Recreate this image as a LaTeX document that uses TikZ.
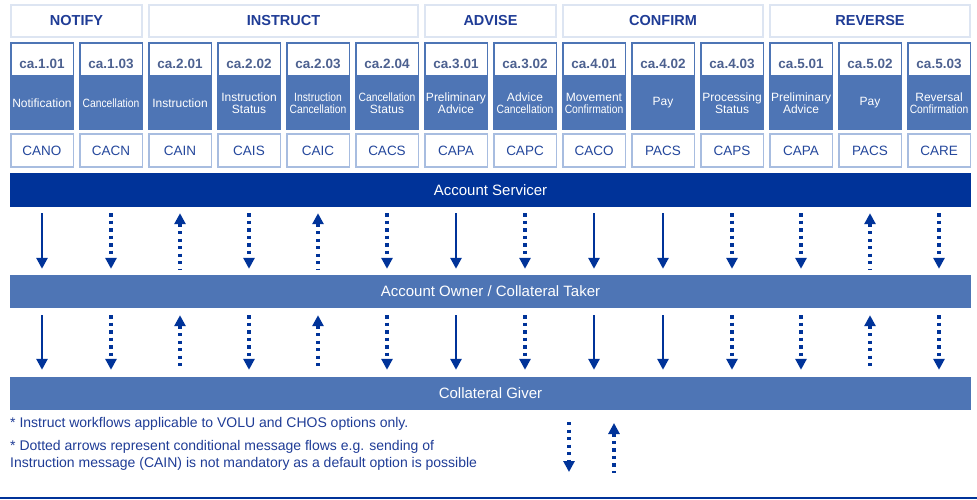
\documentclass[tikz,border=0pt]{standalone}
\usepackage{fontspec}
\setmainfont{Liberation Sans}
\usepackage{graphicx}
\usetikzlibrary{arrows.meta, positioning}
\definecolor{darkblue}{HTML}{003399}
\definecolor{midblue}{HTML}{4E75B5}
\definecolor{headblue}{HTML}{1F3C96}
\definecolor{codegrey}{HTML}{4D6190}
\definecolor{msgblue}{HTML}{24479C}
\definecolor{paleframe}{HTML}{DDE5F2}
\definecolor{lightframe}{HTML}{A8BDE0}
\newcommand{\squeezed}[1]{\scalebox{0.86}[1]{#1}}

\begin{document}
\begin{tikzpicture}[x=1pt, y=-1pt]
\tikzstyle{groupbox} = [rectangle, minimum height=32pt, inner sep=0pt, draw=paleframe, line width=1.5pt, fill=white, text=headblue, font=\fontsize{14.5}{14.5}\selectfont\bfseries]
\tikzstyle{cabox} = [rectangle, minimum width=62.5pt, minimum height=33pt, inner sep=0pt, text height=17pt, text depth=0pt, draw=midblue, line width=1.5pt, fill=white, text=codegrey, font=\fontsize{13.5}{13.5}\selectfont\bfseries]
\tikzstyle{descbox} = [rectangle, minimum width=64pt, minimum height=54pt, inner sep=0pt, fill=midblue, text=white, align=center, font=\fontsize{12}{12}\selectfont]
\tikzstyle{msgbox} = [rectangle, minimum width=62.5pt, minimum height=33pt, inner sep=0pt, draw=lightframe, line width=1.5pt, fill=white, text=msgblue, font=\fontsize{13.5}{13.5}\selectfont]
\tikzstyle{partybar} = [rectangle, minimum width=961pt, minimum height=34pt, inner sep=0pt, text=white, font=\fontsize{15}{15}\selectfont]
\tikzstyle{note} = [inner sep=0pt, text=headblue, align=left, font=\fontsize{14}{17}\selectfont]
\tikzstyle{msgdown} = [darkblue, line width=2.7pt, -{Triangle[width=11pt, length=11pt]}]
\tikzstyle{conddown} = [darkblue, line width=3.3pt, dash pattern=on 3.3pt off 4.2pt, -{Triangle[width=11pt, length=11pt]}]
\tikzstyle{condup} = [darkblue, line width=3.3pt, dash pattern=on 3.3pt off 4.2pt, {Triangle[width=11pt, length=11pt]}-]

\useasboundingbox (0,0) rectangle (977,499);

% workflow groups
\node (notify) [groupbox, minimum width=131pt] at (76.5,21) {NOTIFY};
\node (instruct) [groupbox, minimum width=269pt] at (283.5,21) {INSTRUCT};
\node (advise) [groupbox, minimum width=131pt] at (490.5,21) {ADVISE};
\node (confirm) [groupbox, minimum width=200pt] at (663,21) {CONFIRM};
\node (reverse) [groupbox, minimum width=200pt] at (870,21) {REVERSE};

% one column per message
\foreach \i/\ca/\desc/\msg in {
  1/ca.1.01/Notification/CANO,
  2/ca.1.03/{\squeezed{Cancellation}}/CACN,
  3/ca.2.01/Instruction/CAIN,
  4/ca.2.02/{Instruction\\Status}/CAIS,
  5/ca.2.03/{\squeezed{Instruction}\\\squeezed{Cancellation}}/CAIC,
  6/ca.2.04/{\squeezed{Cancellation}\\Status}/CACS,
  7/ca.3.01/{Preliminary\\Advice}/CAPA,
  8/ca.3.02/{Advice\\\squeezed{Cancellation}}/CAPC,
  9/ca.4.01/{Movement\\\squeezed{Confirmation}}/CACO,
  10/ca.4.02/Pay/PACS,
  11/ca.4.03/{Processing\\Status}/CAPS,
  12/ca.5.01/{Preliminary\\Advice}/CAPA,
  13/ca.5.02/Pay/PACS,
  14/ca.5.03/{Reversal\\\squeezed{Confirmation}}/CARE}
{
  \node (desc\i) [descbox] at ({42+69*(\i-1)},103) {\desc};
  \node (ca\i) [cabox] at ({42+69*(\i-1)},59.5) {\ca};
  \node (msg\i) [msgbox] at ({42+69*(\i-1)},150.5) {\msg};
}

% parties
\node (servicer) [partybar, fill=darkblue] at (490.5,190) {Account Servicer};
\node (owner) [partybar, fill=midblue, minimum height=33pt] at (490.5,291.5) {Account Owner / Collateral Taker};
\node (giver) [partybar, fill=midblue, minimum height=33pt] at (490.5,393.5) {Collateral Giver};

% message flows
\foreach \i/\flow in {1/msgdown, 2/conddown, 3/condup, 4/conddown, 5/condup, 6/conddown, 7/msgdown,
  8/conddown, 9/msgdown, 10/msgdown, 11/conddown, 12/conddown, 13/condup, 14/conddown}
{
  \draw[\flow] ([yshift=-6pt]servicer.south -| desc\i) -- ([yshift=6pt]owner.north -| desc\i);
  \draw[\flow] ([yshift=-7pt]owner.south -| desc\i) -- ([yshift=7pt]giver.north -| desc\i);
}

% notes
\node (note1) [note, anchor=west] at (10,424) {* Instruct workflows applicable to VOLU and CHOS options only.};
\node (note2) [note, anchor=west] at (10,455.5) {* Dotted arrows represent conditional message flows e.g. sending of\\Instruction message (CAIN) is not mandatory as a default option is possible};

\coordinate (keydown) at (569,422);
\coordinate (keydownend) at (569,472);
\coordinate (keyup) at (614,423);
\coordinate (keyupend) at (614,473);
\draw[conddown] (keydown) -- (keydownend);
\draw[condup] (keyup) -- (keyupend);

\draw[darkblue, line width=1.5pt] (0,498) -- (977,498);
\end{tikzpicture}
\end{document}
